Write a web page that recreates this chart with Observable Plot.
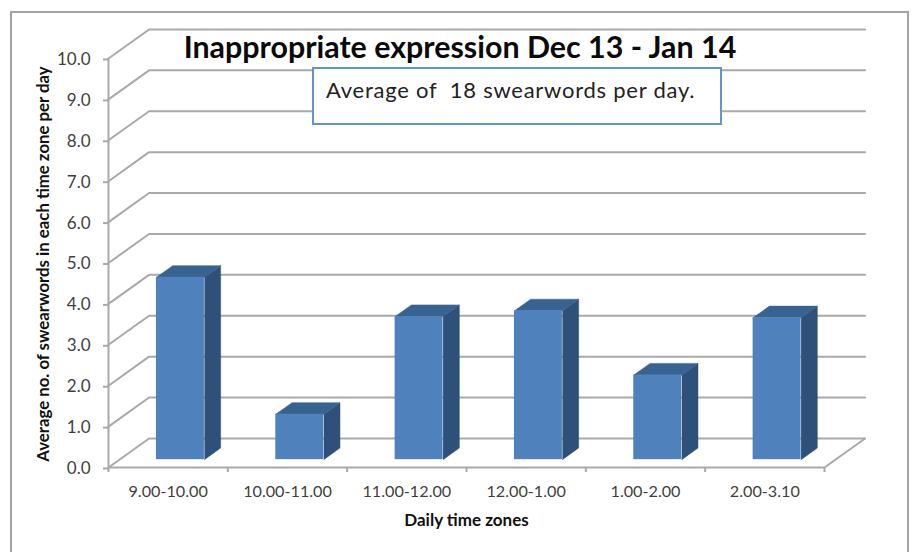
<!DOCTYPE html>
<html><head><meta charset="utf-8">
<script src="https://cdn.jsdelivr.net/npm/d3@7"></script>
<script src="https://cdn.jsdelivr.net/npm/@observablehq/plot@0.6"></script>
<style>
html,body{margin:0;padding:0;background:#fff;overflow:hidden;width:912px;height:552px}
#wrap{position:relative;width:912px;height:552px;overflow:hidden}
#wrap svg{display:block;position:absolute;left:0;top:0;background:transparent}
#frame{position:absolute;left:10px;top:11px;width:895px;height:600px;border:2px solid #a3a3a3}
#title{position:absolute;left:0;width:920px;top:28px;text-align:center;font:bold 30.4px Lato,"Open Sans",sans-serif;color:#0a0a0a;white-space:pre}
#note{position:absolute;left:312px;top:67px;width:406px;height:54px;border:2px solid #6594cd;background:#fff;font:22px Lato,"Open Sans",sans-serif;letter-spacing:.75px;color:#222;white-space:pre;line-height:42px;box-sizing:content-box;text-indent:12px}
</style></head><body><div id="wrap"><div id="frame"></div></div>
<script>
const categories = ["9.00-10.00","10.00-11.00","11.00-12.00","12.00-1.00","1.00-2.00","2.00-3.10"];
const values = [4.46, 1.11, 3.5, 3.64, 2.07, 3.47];
const gridValues = [0,1,2,3,4,5,6,7,8,9,10];

const depthX = 0.34, depthY = 0.71;     // back wall shift in data units
const barFront = 0.27, barBack = 0.67;  // bar depth as a share of the wall depth
const barStart = 0.31, barWidth = 0.402;
const gridColor = "#a9a9a9", labelColor = "#3f3f3f";

const at = (i, v, z) => ({x: i + z * depthX, y: v + z * depthY});
const bars = values.map((v, i) => ({v, l: i + barStart, r: i + barStart + barWidth, key: i}));

const wallLines = gridValues.flatMap(v => [
  {...at(0, v, 0), k: v}, {...at(0, v, 1), k: v}, {...at(6, v, 1), k: v}
]);
const floorEnd = [at(6, 0, 1), at(6, 0, 0)];
const sides = bars.flatMap(b => [
  at(b.r, 0, barFront), at(b.r, 0, barBack), at(b.r, b.v, barBack), at(b.r, b.v, barFront)
].map(p => ({...p, key: b.key})));
const tops = bars.flatMap(b => [
  at(b.l, b.v, barFront), at(b.l, b.v, barBack), at(b.r, b.v, barBack), at(b.r, b.v, barFront)
].map(p => ({...p, key: b.key})));

const chart = Plot.plot({
  width: 912, height: 552,
  marginLeft: 108, marginRight: 88, marginTop: 58, marginBottom: 85,
  style: {background: "transparent", fontFamily: "Lato, 'Open Sans', sans-serif", overflow: "visible"},
  x: {domain: [0, 6]},
  y: {domain: [0, 10]},
  marks: [
    Plot.line(wallLines, {x: "x", y: "y", z: "k", stroke: gridColor, strokeWidth: 2}),
    Plot.line(floorEnd, {x: "x", y: "y", stroke: gridColor, strokeWidth: 2}),
    Plot.ruleX([0], {y1: 0, y2: 10, stroke: gridColor, strokeWidth: 2}),
    Plot.ruleY([0], {x1: 0, x2: 6, stroke: gridColor, strokeWidth: 2}),
    Plot.line(sides, {x: "x", y: "y", z: "key", fill: "#2f5078", stroke: "#2f5078", strokeWidth: 0.5}),
    Plot.line(tops, {x: "x", y: "y", z: "key", fill: "#38628f", stroke: "#38628f", strokeWidth: 0.5}),
    Plot.rect(bars, {
      x1: d => at(d.l, 0, barFront).x, x2: d => at(d.r, 0, barFront).x,
      y1: d => at(0, 0, barFront).y, y2: d => at(0, d.v, barFront).y,
      fill: "#4f81bd"
    }),
    Plot.axisY({
      ticks: gridValues, tickSize: 5, tickPadding: 13, tickFormat: d3.format(".1f"),
      stroke: gridColor, strokeWidth: 2, fontSize: 17, fill: labelColor, dy: 1, textStroke: "none",
      label: null
    }),
    Plot.axisX({
      ticks: d3.range(7), tickSize: 5, tickFormat: () => "", stroke: gridColor, strokeWidth: 2, label: null
    }),
    Plot.axisX({
      ticks: categories.map((c, i) => i + 0.5), tickSize: 0, tickPadding: 18,
      tickFormat: d => categories[d - 0.5], fontSize: 16.2, fill: labelColor, label: null
    }),
    Plot.text(["Average no. of swearwords in each time zone per day"], {
      frameAnchor: "left", dx: -65, rotate: -90, fontWeight: "bold", fontSize: 16.8, fill: "#111", textAnchor: "middle", dy: 1
    }),
    Plot.text(["Daily time zones"], {
      frameAnchor: "bottom", dx: 0, dy: 58, fontWeight: "bold", fontSize: 17, fill: "#111"
    })
  ]
});
const wrap = document.getElementById("wrap");
wrap.appendChild(chart);
const title = document.createElement("div");
title.id = "title"; title.textContent = "Inappropriate expression Dec 13 - Jan 14";
wrap.appendChild(title);
const note = document.createElement("div");
note.id = "note"; note.textContent = "Average of  18 swearwords per day.";
wrap.appendChild(note);
</script></body></html>
